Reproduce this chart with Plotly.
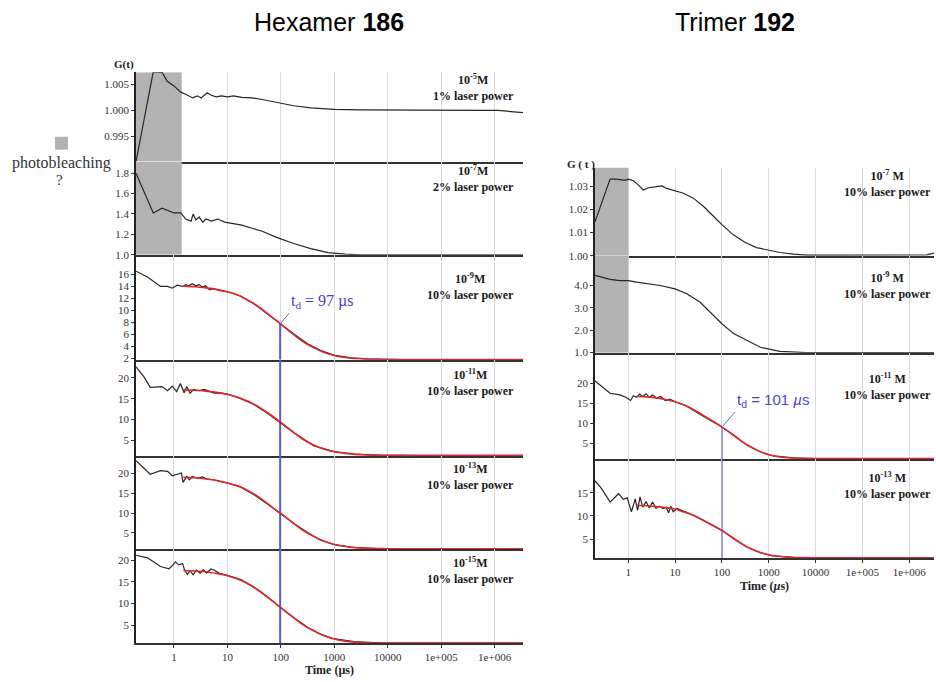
import math
import plotly.graph_objects as go

W, H = 936, 682

# ---------------- data ----------------
time_ticks = [1, 10, 100, 1000, 10000, 100000, 1000000]
time_ticktext = ["1", "10", "100", "1000", "10000", "1e+005", "1e+006"]

# common lag-time grid of the fitted curves (µs)
fit_t = [1.5, 2.5, 4, 6.3, 10, 16, 25, 40, 63, 100, 160, 250, 400, 630, 1000,
         1600, 2500, 4000, 6300, 10000, 30000, 1e5, 3e5, 1e6, 3.4e6]

# Hexamer 186
hex5_t = [0.195, 0.41, 0.60, 0.75, 1.0, 1.34, 1.66, 2.24, 2.75, 3.24, 4.17, 5.0, 6.17, 7.76, 10, 12.9, 18.6, 28.8,
          44.7, 83.2, 174, 363, 1000, 3162, 29512, 562341, 1148154, 3388000]
hex5_g = [0.9902, 1.0074, 1.0073, 1.0056, 1.0047, 1.0035, 1.0031, 1.0024, 1.0028, 1.0024, 1.0034, 1.0029, 1.0026,
          1.0028, 1.0026, 1.0028, 1.0025, 1.0024, 1.0021, 1.0015, 1.0009, 1.0005, 1.0002, 1.0001, 1.0000, 1.0000,
          1.0000, 0.9996]

hex7_t = [0.195, 0.41, 0.60, 1.0, 1.34, 1.66, 2.09, 2.29, 2.57, 2.95, 3.47, 3.98, 5.0, 6.61, 8.91, 12.0, 18.6, 28.8,
          44.7, 83.2, 174, 363, 759, 1585, 3162, 10000, 1e5, 1e6, 3.4e6]
hex7_g = [1.80, 1.41, 1.457, 1.41, 1.41, 1.35, 1.33, 1.40, 1.34, 1.37, 1.32, 1.35, 1.33, 1.35, 1.32, 1.31, 1.29, 1.26,
          1.23, 1.17, 1.11, 1.06, 1.02, 1.006, 1.0, 1.0, 1.0, 1.0, 1.0]

hex9_t = [0.195, 0.32, 0.56, 0.76, 0.93, 1.15, 1.45, 1.66, 1.91, 2.19, 2.57, 2.95, 3.39, 3.89, 4.57, 5.62, 7.41, 10,
          17.8, 31.6, 56.2, 95.5, 178, 316, 550, 977, 2042, 4169, 17378, 3.4e6]
hex9_g = [16.55, 15.56, 14.0, 14.0, 13.7, 14.2, 14.0, 14.3, 14.1, 14.45, 14.1, 14.3, 13.9, 14.1, 13.45, 13.6, 13.3,
          13.1, 12.4, 11.1, 9.4, 7.8, 6.0, 4.4, 3.3, 2.5, 2.05, 1.88, 1.77, 1.76]
hex9_fit = [14.05, 13.95, 13.75, 13.5, 13.1, 12.5, 11.6, 10.5, 9.1, 7.7, 6.2, 4.85, 3.8, 3.0, 2.45, 2.1, 1.93, 1.84,
            1.79, 1.77, 1.76, 1.76, 1.76, 1.76, 1.76]

hex11_t = [0.195, 0.275, 0.36, 0.60, 0.76, 0.93, 1.12, 1.32, 1.55, 1.74, 2.0, 2.34, 2.95, 3.63, 4.57, 5.62, 7.41, 10,
           17.8, 31.6, 56.2, 95.5, 178, 417, 1000, 2344, 8511, 3.4e6]
hex11_g = [22.6, 20.2, 17.7, 17.9, 16.9, 18.0, 16.7, 18.65, 16.4, 17.9, 16.3, 17.2, 16.9, 17.2, 16.8, 16.3, 16.4,
           16.1, 15.0, 13.6, 11.5, 9.4, 6.8, 3.7, 2.3, 1.7, 1.45, 1.4]
hex11_fit = [17.1, 17.0, 16.8, 16.5, 16.0, 15.3, 14.3, 12.9, 11.2, 9.3, 7.3, 5.4, 3.95, 2.95, 2.3, 1.9, 1.65, 1.52,
             1.45, 1.42, 1.4, 1.4, 1.4, 1.4, 1.4]

hex13_t = [0.195, 0.36, 0.56, 0.76, 0.93, 1.12, 1.38, 1.48, 1.74, 1.95, 2.19, 2.75, 3.39, 4.17, 5.62, 7.41, 10, 17.8,
           31.6, 56.2, 95.5, 178, 316, 550, 977, 2344, 8511, 3.4e6]
hex13_g = [23.2, 19.8, 20.7, 20.5, 19.4, 19.8, 20.1, 17.75, 19.25, 18.4, 19.25, 18.75, 19.1, 18.6, 18.4, 17.9, 17.6,
           16.5, 14.6, 12.3, 10.0, 7.3, 5.1, 3.2, 2.1, 1.33, 1.02, 1.0]
hex13_fit = [19.0, 18.9, 18.6, 18.2, 17.6, 16.8, 15.6, 13.9, 11.9, 9.9, 7.8, 5.8, 4.2, 3.0, 2.1, 1.6, 1.3, 1.15, 1.07,
             1.03, 1.0, 1.0, 1.0, 1.0, 1.0]

hex15_t = [0.195, 0.32, 0.56, 0.81, 0.93, 1.07, 1.23, 1.45, 1.58, 1.78, 2.0, 2.29, 2.63, 3.09, 3.55, 4.07, 4.9, 5.62,
           6.92, 10, 17.8, 31.6, 56.2, 95.5, 178, 316, 550, 977, 2344, 8511, 3.4e6]
hex15_g = [21.1, 20.5, 18.5, 18.0, 18.7, 19.6, 18.9, 19.2, 17.7, 16.7, 17.5, 16.6, 17.7, 17.0, 17.8, 17.0, 17.95,
           17.7, 17.0, 16.5, 15.5, 13.7, 11.6, 9.2, 6.7, 4.6, 3.0, 1.95, 1.3, 0.97, 0.95]
hex15_fit = [17.6, 17.5, 17.3, 16.9, 16.4, 15.6, 14.5, 12.9, 11.0, 9.1, 7.1, 5.3, 3.8, 2.7, 1.9, 1.4, 1.15, 1.02,
             0.97, 0.95, 0.95, 0.95, 0.95, 0.95, 0.95]

# Trimer 192
tri7_t = [0.195, 0.41, 0.56, 0.85, 1.0, 1.29, 1.66, 2.09, 2.69, 3.72, 5.25, 6.61, 10, 15.1, 24.5, 40.7, 66.1, 100,
          178, 316, 550, 1000, 1738, 3388, 6457, 33884, 173780, 891251, 2398833, 3388000]
tri7_g = [1.0146, 1.0330, 1.0330, 1.0325, 1.0330, 1.0323, 1.0304, 1.0283, 1.0293, 1.0297, 1.0301, 1.0290, 1.0280,
          1.0269, 1.0248, 1.0212, 1.0170, 1.0134, 1.0089, 1.0057, 1.0035, 1.0024, 1.0014, 1.0007, 1.0003, 1.0003,
          1.0003, 1.0001, 1.0004, 1.0011]

tri9_t = [0.195, 0.41, 0.66, 1.0, 1.51, 2.45, 4.79, 10, 17.8, 33.9, 66.1, 100, 178, 339, 661, 1738, 6457, 100000,
          3388000]
tri9_g = [4.45, 4.27, 4.22, 4.22, 4.15, 4.10, 4.00, 3.85, 3.63, 3.26, 2.66, 2.29, 1.85, 1.55, 1.24, 1.06, 1.0, 1.0,
          1.0]

tri11_t = [0.195, 0.27, 0.41, 0.66, 0.89, 1.12, 1.29, 1.51, 1.74, 2.04, 2.40, 2.82, 3.31, 4.07, 4.90, 6.17, 7.76, 10,
           17.8, 33.9, 66.1, 100, 178, 339, 661, 1259, 3388, 10715, 3388000]
tri11_g = [20.6, 19.2, 17.5, 17.1, 16.5, 15.7, 16.9, 16.5, 17.3, 16.7, 17.4, 16.5, 17.1, 16.3, 16.7, 15.7, 16.05,
           15.4, 14.3, 12.3, 10.4, 9.1, 7.1, 4.6, 2.9, 1.85, 1.37, 1.21, 1.2]
tri11_fit = [16.7, 16.6, 16.35, 15.95, 15.4, 14.55, 13.4, 12.0, 10.6, 9.1, 7.4, 5.7, 4.2, 3.0, 2.15, 1.65, 1.4, 1.28,
             1.23, 1.21, 1.2, 1.2, 1.2, 1.2, 1.2]

tri13_t = [0.195, 0.27, 0.41, 0.62, 0.79, 0.95, 1.17, 1.41, 1.58, 1.78, 2.04, 2.40, 2.82, 3.31, 3.89, 4.68, 5.50, 6.46,
           7.24, 8.13, 9.12, 11, 13.8, 17.8, 22.9, 28.8, 47.9, 100, 178, 339, 661, 1259, 3388, 6457, 3388000]
tri13_g = [17.6, 15.9, 13.0, 14.8, 13.6, 13.9, 10.9, 13.7, 11.2, 14.1, 11.9, 13.1, 11.7, 13.0, 11.7, 12.1, 11.6, 11.9,
           10.7, 12.1, 10.9, 11.6, 11.2, 10.8, 10.3, 9.8, 8.6, 6.9, 5.1, 3.3, 2.1, 1.4, 1.08, 1.02, 1.0]
tri13_fit = [12.3, 12.2, 12.0, 11.8, 11.5, 10.8, 10.1, 9.1, 8.0, 6.9, 5.5, 4.2, 3.0, 2.2, 1.6, 1.3, 1.12, 1.05, 1.02,
             1.0, 1.0, 1.0, 1.0, 1.0, 1.0]

td_hex = 97
td_tri = 101
bleach_end_hex = 1.4
bleach_end_tri = 1.0

# y tick labels per panel
yt_hex5 = ["0.995", "1.000", "1.005"]
yt_hex7 = ["1.0", "1.2", "1.4", "1.6", "1.8"]
yt_hex9 = ["2", "4", "6", "8", "10", "12", "14", "16"]
yt_20 = ["5", "10", "15", "20"]
yt_tri7 = ["1.00", "1.01", "1.02", "1.03"]
yt_tri9 = ["1.0", "2.0", "3.0", "4.0"]
yt_15 = ["5", "10", "15"]

# ---------------- layout helpers ----------------
SERIF = "Liberation Serif"
SANS = "Liberation Sans"
XRANGE = [-0.71, 6.53]


def fx(px):
    return px / W


def fy(py):
    return 1 - py / H


def axname(i):
    return "" if i == 1 else str(i)


# panel geometry: (x_left, x_right, y_top, y_bottom) in window pixels, y range
panels = [
    dict(t=hex5_t, g=hex5_g, fit=None, ticks=yt_hex5, box=(136, 523, 73, 163), yr=[0.9902, 1.0073],
         exp="-5", pw="1", side="L", shade=bleach_end_hex),
    dict(t=hex7_t, g=hex7_g, fit=None, ticks=yt_hex7, box=(136, 523, 163, 257), yr=[1.0, 1.914],
         exp="-7", pw="2", side="L", shade=bleach_end_hex),
    dict(t=hex9_t, g=hex9_g, fit=hex9_fit, ticks=yt_hex9, box=(136, 523, 257, 363), yr=[1.72, 19.3],
         exp="-9", pw="10", side="L", td=td_hex, tdstart=True),
    dict(t=hex11_t, g=hex11_g, fit=hex11_fit, ticks=yt_20, box=(136, 523, 363, 460), yr=[1.28, 24.3],
         exp="-11", pw="10", side="L", td=td_hex),
    dict(t=hex13_t, g=hex13_g, fit=hex13_fit, ticks=yt_20, box=(136, 523, 460, 554), yr=[0.92, 24.4],
         exp="-13", pw="10", side="L", td=td_hex),
    dict(t=hex15_t, g=hex15_g, fit=hex15_fit, ticks=yt_20, box=(136, 523, 554, 649), yr=[0.9, 22.5],
         exp="-15", pw="10", side="L", td=td_hex, bottom=True),
    dict(t=tri7_t, g=tri7_g, fit=None, ticks=yt_tri7, box=(595, 934, 169, 258), yr=[1.0, 1.038],
         exp="-7", pw="10", side="R", shade=bleach_end_tri),
    dict(t=tri9_t, g=tri9_g, fit=None, ticks=yt_tri9, box=(595, 934, 258, 356), yr=[0.99, 5.33],
         exp="-9", pw="10", side="R", shade=bleach_end_tri),
    dict(t=tri11_t, g=tri11_g, fit=tri11_fit, ticks=yt_15 + ["20"], box=(595, 934, 356, 463), yr=[1.11, 27.6],
         exp="-11", pw="10", side="R", td=td_tri, tdstart=True),
    dict(t=tri13_t, g=tri13_g, fit=tri13_fit, ticks=yt_15, box=(595, 934, 463, 563), yr=[0.93, 22.3],
         exp="-13", pw="10", side="R", td=td_tri, bottom=True),
]

label_centers = {0: 88.5, 1: 180.5, 2: 289.5, 3: 386, 4: 480.5, 5: 575.5, 6: 185.5, 7: 288, 8: 390, 9: 490}

fig = go.Figure()
layout = dict(
    width=W, height=H, margin=dict(l=0, r=0, t=0, b=0),
    paper_bgcolor="white", plot_bgcolor="white", showlegend=False,
    hovermode=False,
)
annotations = []
shapes = []

SHADE = "#b3b3b3"
BLACK = "#262626"
RED = "#e2262c"
BLUE = "#5a5ad0"

for k, p in enumerate(panels):
    i = k + 1
    xa, ya = "x" + axname(i), "y" + axname(i)
    x0, x1, y0, y1 = p["box"]
    lo, hi = p["yr"]
    # photobleaching shading
    if p.get("shade"):
        tmin = 10 ** XRANGE[0]
        fig.add_trace(go.Scatter(x=[tmin, p["shade"], p["shade"], tmin], y=[lo, lo, hi, hi],
                                 fill="toself", fillcolor=SHADE, line=dict(width=0), mode="lines",
                                 xaxis=xa, yaxis=ya, hoverinfo="skip"))
    # diffusion time marker
    if p.get("td"):
        td = p["td"]
        if p.get("tdstart"):
            ytop = p["fit"][fit_t.index(100)]
        else:
            ytop = hi
        fig.add_trace(go.Scatter(x=[td, td], y=[lo, ytop], mode="lines",
                                 line=dict(color=BLUE, width=2 if p["side"] == "L" else 1),
                                 xaxis=xa, yaxis=ya, hoverinfo="skip"))
    # measured correlation
    fig.add_trace(go.Scatter(x=p["t"], y=p["g"], mode="lines", line=dict(color=BLACK, width=1.2),
                             xaxis=xa, yaxis=ya, hoverinfo="skip"))
    # fit
    if p["fit"] is not None:
        fig.add_trace(go.Scatter(x=fit_t, y=p["fit"], mode="lines",
                                 line=dict(color=RED, width=1.6, shape="spline", smoothing=0.6),
                                 xaxis=xa, yaxis=ya, hoverinfo="skip"))

    is_bottom = p.get("bottom", False)
    layout["xaxis" + axname(i)] = dict(
        type="log", range=XRANGE, domain=[fx(x0), fx(x1)], anchor=ya,
        tickvals=time_ticks, ticktext=time_ticktext, showticklabels=is_bottom,
        ticks="outside" if is_bottom else "", ticklen=3, tickcolor="#333",
        tickfont=dict(family=SERIF, size=11, color="#333"),
        showgrid=True, gridcolor="#d9d9d9", gridwidth=1,
        showline=True, linecolor="#333", linewidth=2, zeroline=False, fixedrange=True,
    )
    tv = [float(s) for s in p["ticks"]]
    layout["yaxis" + axname(i)] = dict(
        domain=[fy(y1), fy(y0)], anchor=xa, range=[lo, hi],
        tickvals=tv, ticktext=p["ticks"], ticks="outside", ticklen=3, tickcolor="#333",
        tickfont=dict(family=SERIF, size=11, color="#333"),
        showgrid=False, showline=True, linecolor="#222", linewidth=1.5, zeroline=False, fixedrange=True,
    )

    # concentration / power label
    if p["side"] == "L":
        txt = "<b>10<sup>%s</sup>M<br>%s%% laser power</b>" % (p["exp"], p["pw"])
        xr = 516
    else:
        txt = "<b>10<sup>%s</sup> M<br>%s%% laser power</b>" % (p["exp"], p["pw"])
        xr = 933
    annotations.append(dict(x=fx(xr), y=fy(label_centers[k]), xref="paper", yref="paper", text=txt,
                            showarrow=False, xanchor="right", yanchor="middle", align="center",
                            font=dict(family=SERIF, size=12, color="#1a1a1a")))

    # td label
    if p.get("tdstart"):
        td = p["td"]
        yv = p["fit"][fit_t.index(100)]
        if p["side"] == "L":
            txt = "t<sub>d</sub> = %d µs" % td
            fnt = dict(family=SERIF, size=16, color="#3f3fc8")
            ax_, ay_ = 9, -11
        else:
            txt = "t<sub>d</sub> = %d <i>µ</i>s" % td
            fnt = dict(family=SANS, size=15, color="#4848cc")
            ax_, ay_ = 13, -15
        annotations.append(dict(x=math.log10(td), y=yv, xref=xa, yref=ya, text=txt, showarrow=True,
                                arrowhead=0, arrowwidth=1, arrowcolor="#6a6ad8", ax=ax_, ay=ay_,
                                xanchor="left", yanchor="bottom", font=fnt, standoff=0))

# titles and axis labels
annotations += [
    dict(x=fx(329), y=fy(22), xref="paper", yref="paper", text="Hexamer <b>186</b>", showarrow=False,
         xanchor="center", yanchor="middle", font=dict(family=SANS, size=25, color="black")),
    dict(x=fx(735), y=fy(22), xref="paper", yref="paper", text="Trimer <b>192</b>", showarrow=False,
         xanchor="center", yanchor="middle", font=dict(family=SANS, size=25, color="black")),
    dict(x=fx(124), y=fy(65), xref="paper", yref="paper", text="<b>G(t)</b>", showarrow=False,
         xanchor="center", yanchor="middle", font=dict(family=SERIF, size=11, color="#222")),
    dict(x=fx(581), y=fy(166), xref="paper", yref="paper", text="<b>G ( t )</b>", showarrow=False,
         xanchor="center", yanchor="middle", font=dict(family=SERIF, size=11, color="#222")),
    dict(x=fx(329), y=fy(676), xref="paper", yref="paper", text="<b>Time (µs)</b>", showarrow=False,
         xanchor="center", yanchor="middle", font=dict(family=SERIF, size=12, color="#222")),
    dict(x=fx(764), y=fy(591), xref="paper", yref="paper", text="<b>Time (<i>µ</i>s)</b>", showarrow=False,
         xanchor="center", yanchor="middle", font=dict(family=SERIF, size=12, color="#222")),
    dict(x=fx(61), y=fy(164), xref="paper", yref="paper", text="photobleaching", showarrow=False,
         xanchor="center", yanchor="middle", font=dict(family=SERIF, size=16, color="#333")),
    dict(x=fx(60), y=fy(182), xref="paper", yref="paper", text="?", showarrow=False,
         xanchor="center", yanchor="middle", font=dict(family=SERIF, size=15, color="#333")),
]
shapes.append(dict(type="rect", xref="paper", yref="paper", x0=fx(55), x1=fx(68), y0=fy(151), y1=fy(138),
                   fillcolor=SHADE, line=dict(width=0)))

layout["annotations"] = annotations
layout["shapes"] = shapes
fig.update_layout(**layout)
fig.write_html("out.html", config={"displayModeBar": False},
               post_script="document.body.style.margin='0';document.body.style.overflow='hidden';")
